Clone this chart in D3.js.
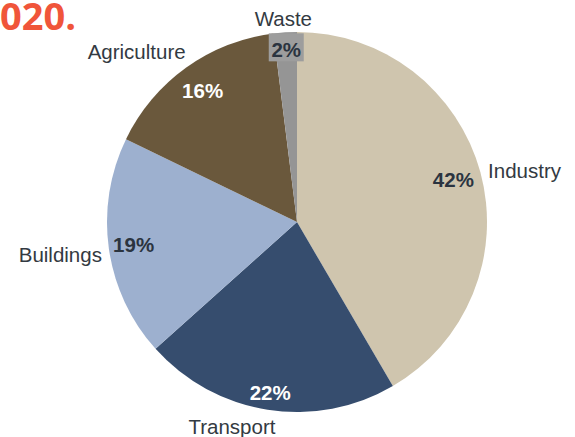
<!DOCTYPE html>
<html>
<head>
<meta charset="utf-8">
<script src="https://cdn.jsdelivr.net/npm/d3@7"></script>
<style>
  html, body { margin: 0; padding: 0; background: #ffffff; }
  svg { display: block; }
</style>
</head>
<body>
<svg id="chart" width="575" height="437"></svg>
<script>
// Share of emissions by sector
const sectors = ["Industry", "Transport", "Buildings", "Agriculture", "Waste"];
const shares = [42, 22, 19, 16, 2];
const sliceColors = ["#cfc5ae", "#364d6e", "#9db0cf", "#6a583c", "#959595"];
const pctColors = ["#2b3440", "#ffffff", "#2b3440", "#ffffff", "#2b3440"];

const svg = d3.select("#chart");
const cx = 297, cy = 222, R = 190;

// Heading fragment at top-left
svg.append("text")
  .attr("x", 76).attr("y", 30)
  .attr("text-anchor", "end")
  .attr("font-family", "'Open Sans', sans-serif")
  .attr("font-weight", 700)
  .attr("font-size", 38)
  .attr("fill", "#f0553a")
  .text("2020.");

const data = sectors.map((s, i) => ({ sector: s, value: shares[i], i }));
const pie = d3.pie().value(d => d.value).sort(null);
const arcs = pie(data);
const arc = d3.arc().innerRadius(0).outerRadius(R);

const g = svg.append("g").attr("transform", `translate(${cx},${cy})`);

g.selectAll("path.slice")
  .data(arcs)
  .join("path")
  .attr("class", "slice")
  .attr("d", arc)
  .attr("fill", d => sliceColors[d.data.i]);

const font = "'Liberation Sans', Arial, sans-serif";

// Percentage labels inside the slices
const pctRadius = [162, 173, 165, 162, 173];
arcs.forEach(d => {
  const mid = (d.startAngle + d.endAngle) / 2;
  const r = pctRadius[d.data.i];
  const x = Math.sin(mid) * r;
  const y = -Math.cos(mid) * r;
  if (d.data.sector === "Waste") {
    g.append("rect")
      .attr("x", x - 17.5).attr("y", y - 16)
      .attr("width", 35).attr("height", 28)
      .attr("fill", "#9d9d9d");
  }
  g.append("text")
    .attr("x", x).attr("y", y)
    .attr("dy", "0.36em")
    .attr("text-anchor", "middle")
    .attr("font-family", font)
    .attr("font-weight", 700)
    .attr("font-size", 20.5)
    .attr("fill", pctColors[d.data.i])
    .text(d.data.value + "%");
});

// Category labels outside the pie
const nameRadius = [198, 207, 197, 210, 204];
const nameAnchor = ["start", "middle", "end", "middle", "middle"];
const nameShift = [[0, 0], [-33, 0], [0, 5], [-38, 0], [-1, 0]];
arcs.forEach(d => {
  const mid = (d.startAngle + d.endAngle) / 2;
  const r = nameRadius[d.data.i];
  const x = Math.sin(mid) * r + nameShift[d.data.i][0];
  const y = -Math.cos(mid) * r + nameShift[d.data.i][1];
  g.append("text")
    .attr("x", x).attr("y", y)
    .attr("dy", "0.36em")
    .attr("text-anchor", nameAnchor[d.data.i])
    .attr("font-family", font)
    .attr("font-size", 20.5)
    .attr("fill", "#333a42")
    .text(d.data.sector);
});
</script>
</body>
</html>
